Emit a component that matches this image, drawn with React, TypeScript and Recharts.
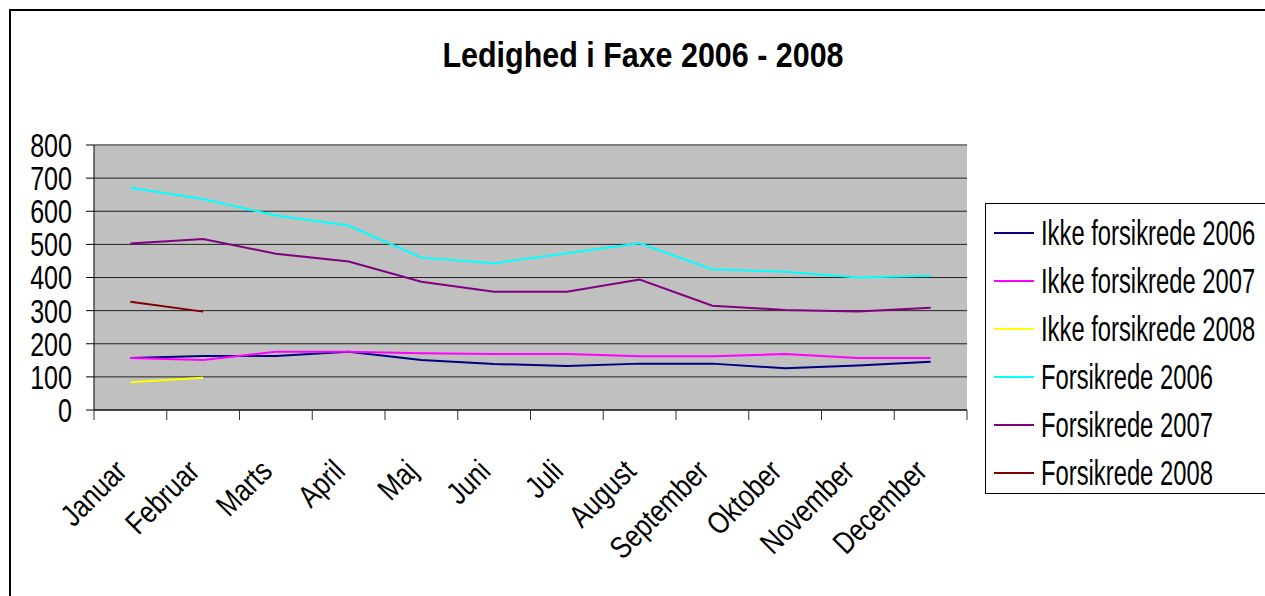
import React from "react";
import { LineChart, Line, XAxis, YAxis, CartesianGrid, ReferenceLine } from "recharts";

const months = [
  "Januar",
  "Februar",
  "Marts",
  "April",
  "Maj",
  "Juni",
  "Juli",
  "August",
  "September",
  "Oktober",
  "November",
  "December",
];

const ikke2006 = [157, 163, 163, 176, 151, 139, 133, 140, 140, 126, 134, 146];
const ikke2007 = [157, 151, 176, 176, 171, 169, 169, 162, 162, 169, 157, 157];
const ikke2008 = [84, 97, null, null, null, null, null, null, null, null, null, null];
const fors2006 = [671, 637, 587, 557, 460, 443, 473, 503, 425, 417, 400, 405];
const fors2007 = [503, 516, 472, 448, 387, 357, 357, 394, 315, 302, 297, 309];
const fors2008 = [327, 297, null, null, null, null, null, null, null, null, null, null];

const yTicks = [0, 100, 200, 300, 400, 500, 600, 700, 800];

const series = [
  { key: "ikke2006", name: "Ikke forsikrede 2006", color: "#000080", values: ikke2006 },
  { key: "ikke2007", name: "Ikke forsikrede 2007", color: "#FF00FF", values: ikke2007 },
  { key: "ikke2008", name: "Ikke forsikrede 2008", color: "#FFFF00", values: ikke2008 },
  { key: "fors2006", name: "Forsikrede 2006", color: "#00FFFF", values: fors2006 },
  { key: "fors2007", name: "Forsikrede 2007", color: "#800080", values: fors2007 },
  { key: "fors2008", name: "Forsikrede 2008", color: "#800000", values: fors2008 },
];

const data = months.map((month, i) => {
  const row: Record<string, string | number | null> = { month };
  series.forEach((s) => {
    row[s.key] = s.values[i];
  });
  return row;
});

const FONT = '"Liberation Sans", Arial, sans-serif';

function YTick({ x, y, payload }: any) {
  return (
    <text
      transform={`translate(${x},${y}) scale(0.76,1)`}
      textAnchor="end"
      dy="0.36em"
      fontSize={33}
      fontFamily={FONT}
      fill="#000"
    >
      {payload.value}
    </text>
  );
}

function XTick({ x, y, payload, index, visibleTicksCount }: any) {
  const half = payload.offset ?? 0;
  const last = index === (visibleTicksCount ?? months.length) - 1;
  return (
    <g>
      <line x1={x - half} x2={x - half} y1={y - 10} y2={y} stroke="#333" />
      {last && <line x1={x + half} x2={x + half} y1={y - 10} y2={y} stroke="#333" />}
      <text
        transform={`translate(${x - 2},${y + 53}) rotate(-45) scale(0.82,1)`}
        textAnchor="end"
        fontSize={31}
        fontFamily={FONT}
        fill="#000"
      >
        {payload.value}
      </text>
    </g>
  );
}

export default function App() {
  return (
    <div
      style={{
        position: "fixed",
        left: 0,
        top: 0,
        width: 1265,
        height: 596,
        overflow: "hidden",
        background: "#fff",
        fontFamily: FONT,
      }}
    >
      <div
        style={{
          position: "absolute",
          left: 9,
          top: 9,
          width: 1400,
          height: 800,
          border: "2px solid #000",
        }}
      />
      <svg
        width={1265}
        height={100}
        style={{ position: "absolute", left: 0, top: 0 }}
      >
        <text
          transform="translate(643,67) scale(0.87,1)"
          textAnchor="middle"
          fontSize={35}
          fontWeight="bold"
          fontFamily={FONT}
          fill="#000"
        >
          Ledighed i Faxe 2006 - 2008
        </text>
      </svg>
      <div style={{ position: "absolute", left: 0, top: 0 }}>
        <LineChart
          width={1265}
          height={596}
          data={data}
          margin={{ top: 145, right: 298, left: 14, bottom: 66 }}
        >
          <CartesianGrid
            vertical={false}
            fill="#C0C0C0"
            stroke="#222"
            fillOpacity={1}
          />
          <ReferenceLine y={800} stroke="#808080" strokeWidth={2} />
          <XAxis
            dataKey="month"
            scale="band"
            interval={0}
            height={120}
            tickSize={10}
            tickMargin={0}
            tickLine={false}
            axisLine={{ stroke: "#000" }}
            tick={<XTick />}
          />
          <YAxis
            domain={[0, 800]}
            ticks={yTicks}
            interval={0}
            width={80}
            tickSize={8}
            tickMargin={14}
            axisLine={{ stroke: "#000" }}
            tickLine={{ stroke: "#000" }}
            tick={<YTick />}
          />
          <YAxis
            yAxisId="frame"
            orientation="right"
            domain={[0, 800]}
            width={0}
            tick={false}
            tickLine={false}
            axisLine={{ stroke: "#808080", strokeWidth: 2 }}
          />
          {series.map((s) => (
            <Line
              key={s.key}
              type="linear"
              dataKey={s.key}
              name={s.name}
              stroke={s.color}
              strokeWidth={2}
              dot={false}
              activeDot={false}
              connectNulls={false}
              isAnimationActive={false}
            />
          ))}
        </LineChart>
      </div>
      <div
        style={{
          position: "absolute",
          left: 985,
          top: 203,
          width: 400,
          height: 289,
          border: "1px solid #000",
          background: "#fff",
        }}
      >
        <svg width={400} height={289}>
          {series.map((s, i) => (
            <g key={s.key} transform={`translate(0,${29 + i * 48})`}>
              <line x1={8} x2={48} y1={0} y2={0} stroke={s.color} strokeWidth={2} />
              <text
                transform="translate(55,12) scale(0.68,1)"
                fontSize={35}
                fontFamily={FONT}
                fill="#000"
              >
                {s.name}
              </text>
            </g>
          ))}
        </svg>
      </div>
    </div>
  );
}
